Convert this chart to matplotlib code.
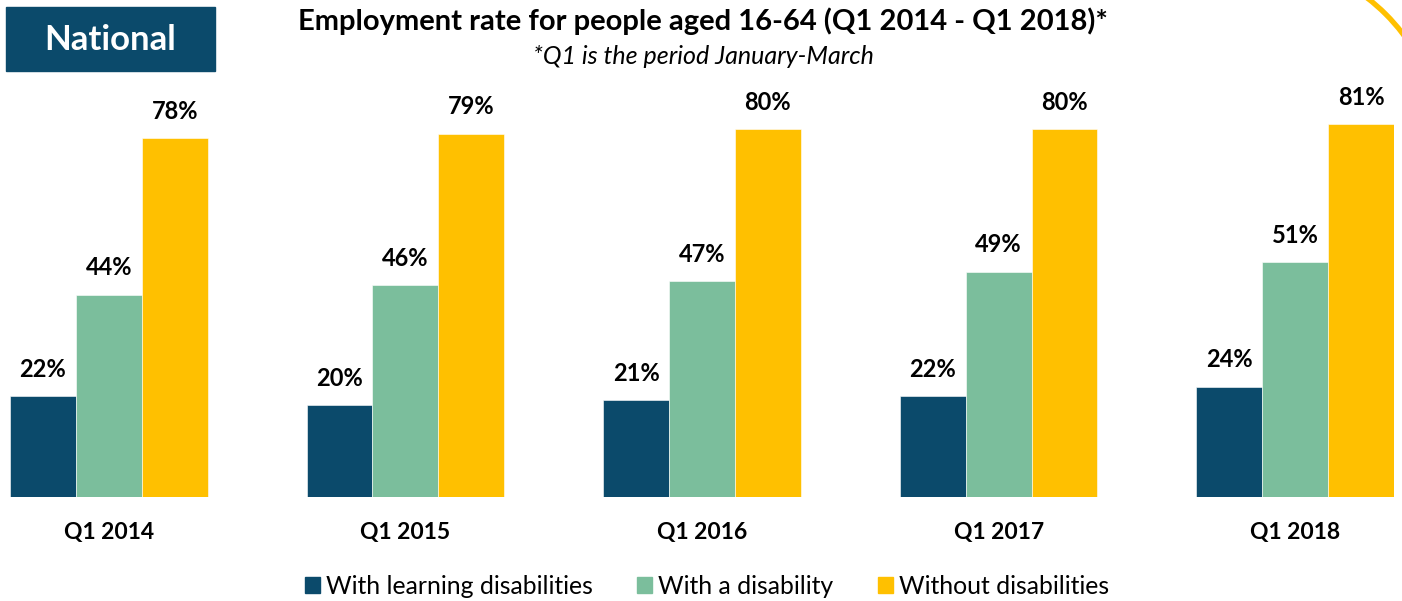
import matplotlib.pyplot as plt
import numpy as np
from matplotlib.patches import Patch, Arc, Rectangle

plt.rcParams['font.family'] = ['Lato', 'DejaVu Sans']

quarters = ['Q1 2014', 'Q1 2015', 'Q1 2016', 'Q1 2017', 'Q1 2018']
learning = [22, 20, 21, 22, 24]
disability = [44, 46, 47, 49, 51]
without = [78, 79, 80, 80, 81]
series_names = ['With learning disabilities', 'With a disability', 'Without disabilities']
colors = ['#0B4A6B', '#7BBE9C', '#FFC000']

fig = plt.figure(figsize=(14.02, 6.01), dpi=100)
W, H = 1402, 601
# axes placed in pixels: bars span x 10..1394, baseline at y=497
ax = fig.add_axes([10 / W, (601 - 497) / H, 1384 / W, 460 / H])
ax.set_xlim(-1 / 3, 4 + 1 / 3)
ax.set_ylim(0, 100)

x = np.arange(len(quarters))
bw = 2 / 9
for i, (vals, c) in enumerate(zip([learning, disability, without], colors)):
    pos = x + (i - 1) * bw
    ax.bar(pos, vals, width=bw, color=c, edgecolor='white', linewidth=0.4)
    for p, v in zip(pos, vals):
        ax.text(p, v + 3.3, f'{v}%', ha='center', va='bottom',
                fontsize=17, fontweight='bold', color='black')

ax.set_xticks(x)
ax.set_xticklabels(quarters, fontsize=16.5, fontweight='bold')
ax.tick_params(axis='x', length=0, pad=18)
ax.set_yticks([])
for s in ax.spines.values():
    s.set_visible(False)

fig.text(703 / W, 1 - 21 / H, 'Employment rate for people aged 16-64 (Q1 2014 - Q1 2018)*',
         ha='center', va='center', fontsize=21, fontweight='bold')
fig.text(703 / W, 1 - 56 / H, '*Q1 is the period January-March',
         ha='center', va='center', fontsize=18, style='italic')

# "National" box
fig.patches.append(Rectangle((6 / W, 1 - 71 / H), 209 / W, 64 / H,
                             transform=fig.transFigure, color='#0B4A6B'))
fig.text(110 / W, 1 - 40 / H, 'National', ha='center', va='center',
         fontsize=25, fontweight='bold', color='white')

# yellow arc in top-right corner
fig.patches.append(Arc((12.50, 4.51), 3.84, 3.84, theta1=30, theta2=60,
                       transform=fig.dpi_scale_trans,
                       edgecolor='#FFC000', linewidth=3.8))

handles = [Patch(color=c, label=n) for c, n in zip(colors, series_names)]
fig.legend(handles=handles, loc='center', bbox_to_anchor=(707 / W, 1 - 586 / H),
           ncol=3, frameon=False, fontsize=17.8, handlelength=0.6, handleheight=0.6,
           handletextpad=0.25, columnspacing=1.8)

fig.savefig('out.png', dpi=100)
